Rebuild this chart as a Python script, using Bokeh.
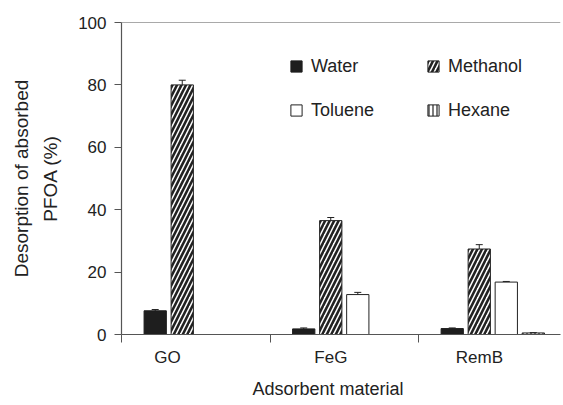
import math
from bokeh.plotting import figure
from bokeh.models import (ColumnDataSource, FixedTicker, Whisker, TeeHead, Legend,
                          LegendItem, Span, Range1d, Title)
from bokeh.embed import file_html
from bokeh.resources import INLINE

nan = float("nan")

# ---- data ----
materials = ["GO", "FeG", "RemB"]
solvents = ["Water", "Methanol", "Toluene", "Hexane"]
water = [7.6, 1.8, 1.9]
water_err = [0.4, 0.3, 0.2]
methanol = [80.0, 36.5, 27.4]
methanol_err = [1.5, 1.0, 1.4]
toluene = [nan, 12.8, 16.8]
toluene_err = [nan, 0.7, 0.2]
hexane = [nan, nan, 0.5]
hexane_err = [nan, nan, 0.1]
y_ticks = [0, 20, 40, 60, 80, 100]

series_values = [water, methanol, toluene, hexane]
series_errs = [water_err, methanol_err, toluene_err, hexane_err]

# ---- layout / style ----
FONT = "Liberation Sans"
TXT = "#222222"
AX = "#555555"
offsets = [-0.273, -0.091, 0.091, 0.273]
bar_w = 0.15
label_shift = [-0.19, -0.09, -0.09]  # category label placement relative to centre

styles = [
    dict(fill_color="#1e1e1e", line_color="#1e1e1e"),
    dict(fill_color="white", line_color="#222222", hatch_pattern="right_diagonal_line",
         hatch_color="#222222", hatch_scale=9, hatch_weight=2.6),
    dict(fill_color="white", line_color="#222222"),
    dict(fill_color="white", line_color="#222222", hatch_pattern="vertical_line",
         hatch_color="#222222", hatch_scale=4, hatch_weight=1.2),
]

p = figure(width=563, height=405, output_backend="svg", toolbar_location=None,
           x_range=Range1d(0, 2.956), y_range=Range1d(0, 100),
           min_border_left=121, min_border_right=3, min_border_top=22,
           min_border_bottom=70)
p.outline_line_color = None
p.xgrid.visible = False
p.ygrid.visible = False
p.background_fill_color = "white"
p.border_fill_color = "white"

renderers = []
for k, (vals, errs) in enumerate(zip(series_values, series_errs)):
    xs = [i + 0.5 + offsets[k] for i in range(len(materials))]
    src = ColumnDataSource(dict(x=xs, top=vals))
    r = p.vbar(x="x", top="top", width=bar_w, source=src, line_width=1, **styles[k])
    renderers.append(r)
    wx, wl, wu = [], [], []
    for x, v, e in zip(xs, vals, errs):
        if not (math.isnan(v) or math.isnan(e)):
            wx.append(x); wl.append(v - e); wu.append(v + e)
    wsrc = ColumnDataSource(dict(x=wx, lower=wl, upper=wu))
    w = Whisker(source=wsrc, base="x", lower="lower", upper="upper",
                line_color="#222222", line_width=1,
                upper_head=TeeHead(size=7, line_color="#222222", line_width=1),
                lower_head=None)
    p.add_layout(w)

# top border line
p.add_layout(Span(location=100, dimension="width", line_color=AX, line_width=1.2))

# x axis
xa = p.xaxis[0]
xa.ticker = FixedTicker(ticks=[i + 0.5 + label_shift[i] for i in range(len(materials))],
                        minor_ticks=list(range(len(materials))))
xa.major_label_overrides = {i + 0.5 + label_shift[i]: m for i, m in enumerate(materials)}
xa.major_tick_line_color = None
xa.major_tick_out = 0
xa.major_tick_in = 0
xa.minor_tick_out = 8
xa.minor_tick_in = 0
xa.minor_tick_line_color = AX
xa.axis_line_color = AX
xa.axis_line_width = 1.2
xa.major_label_text_font = FONT
xa.major_label_text_font_size = "17px"
xa.major_label_text_color = TXT
xa.major_label_standoff = 5

# y axis
ya = p.yaxis[0]
ya.ticker = FixedTicker(ticks=y_ticks)
ya.major_tick_out = 7
ya.major_tick_in = 0
ya.major_tick_line_color = AX
ya.minor_tick_line_color = None
ya.axis_line_color = AX
ya.axis_line_width = 1.2
ya.major_label_text_font = FONT
ya.major_label_text_font_size = "17px"
ya.major_label_text_color = TXT
ya.major_label_standoff = 8
ya.axis_label = "Desorption of absorbed\nPFOA (%)"
ya.axis_label_text_font = FONT
ya.axis_label_text_font_size = "19px"
ya.axis_label_text_font_style = "normal"
ya.axis_label_text_color = TXT
ya.axis_label_text_line_height = 1.38
ya.axis_label_standoff = 14

# x axis title
p.add_layout(Title(text="Adsorbent material", align="left", offset=131,
                   text_font=FONT, text_font_size="18px", text_font_style="normal",
                   text_color=TXT, standoff=14), "below")

# legends (two columns)
def make_legend(idx, loc):
    lg = Legend(items=[LegendItem(label=solvents[i], renderers=[renderers[i]]) for i in idx],
                location=loc, orientation="vertical", padding=0, margin=0, spacing=20,
                glyph_width=14, glyph_height=14, label_height=24, label_standoff=8,
                label_text_font=FONT, label_text_font_size="18px", label_text_color=TXT,
                border_line_color=None, background_fill_alpha=0)
    p.add_layout(lg)

make_legend([0, 2], (168, 212))
make_legend([1, 3], (305, 212))

open("out.html", "w").write(file_html(p, INLINE))
